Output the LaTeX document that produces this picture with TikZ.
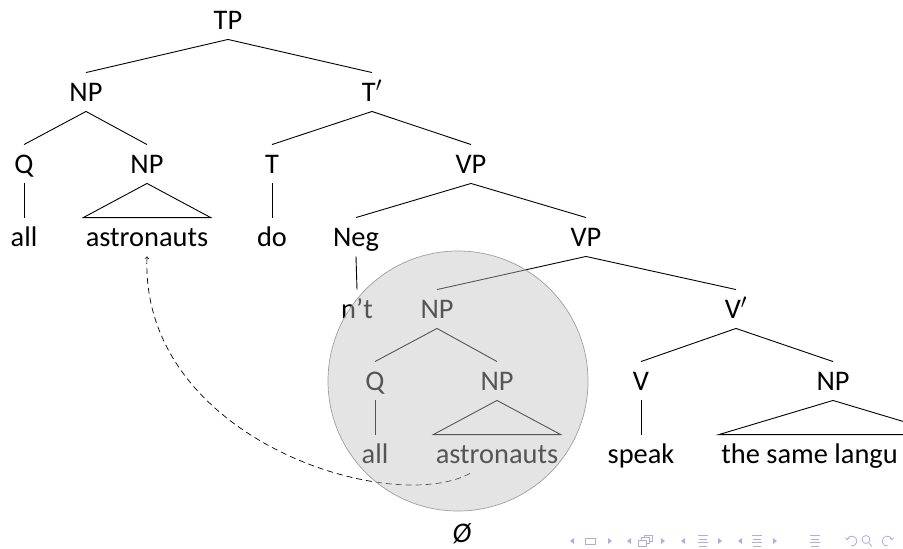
\documentclass[tikz,border=0pt]{standalone}
\usepackage{fontspec}
\setmainfont{Carlito}
\usetikzlibrary{arrows,calc}

\definecolor{navblue}{rgb}{0.68,0.68,0.88}
\definecolor{shade}{gray}{0.76}

\begin{document}
\begin{tikzpicture}[x=1pt, y=-1pt, line width=0.9pt,
  cat/.style={inner xsep=2pt, inner ysep=0pt, text height=18pt, text depth=0pt,
    minimum height=38pt, font=\fontsize{28.4}{34}\selectfont},
  move/.style={->, dashed, dash pattern=on 6pt off 4pt, line width=0.7pt}]

\useasboundingbox (0,0) rectangle (903,549);
\clip (0,0) rectangle (903,549);

% categories
\node[cat] (tp)   at (228, 20)  {TP};
\node[cat] (npa)  at (86, 92)   {NP};
\node[cat] (tbar) at (372, 92)  {T$'$};
\node[cat] (qa)   at (24, 164)  {Q};
\node[cat] (npb)  at (147, 164) {NP};
\node[cat] (t)    at (272, 164) {T};
\node[cat] (vpa)  at (471, 164) {VP};
\node[cat] (alla)   at (24, 237)  {all};
\node[cat] (astroa) at (147, 237) {astronauts};
\node[cat] (do)     at (272, 237) {do};
\node[cat] (neg)    at (356, 237) {Neg};
\node[cat] (vpb)    at (586, 237) {VP};
\node[cat] (nt)   at (357, 309) {n’t};
\node[cat] (npc)  at (437, 309) {NP};
\node[cat] (vbar) at (736, 309) {V$'$};
\node[cat] (qb)   at (375, 381) {Q};
\node[cat] (npd)  at (497, 381) {NP};
\node[cat] (v)    at (641, 381) {V};
\node[cat] (npe)  at (833, 381) {NP};
\node[cat] (allb)   at (375, 454) {all};
\node[cat] (astrob) at (497, 454) {astronauts};
\node[cat] (speak)  at (641, 454) {speak};
\node[cat, anchor=west] (lang) at (719, 454) {the same langu};
\node[cat] (empty) at (462, 533) {\textit{Ø}};

% branches
\draw (tp.south) -- (npa.north);
\draw (tp.south) -- (tbar.north);
\draw (npa.south) -- (qa.north);
\draw (npa.south) -- (npb.north);
\draw (tbar.south) -- (t.north);
\draw (tbar.south) -- (vpa.north);
\draw (qa.south) -- (alla.north);
\draw (npb.south) -- (astroa.north west) -- (astroa.north east) -- cycle;
\draw (t.south) -- (do.north);
\draw (vpa.south) -- (neg.north);
\draw (vpa.south) -- (vpb.north);
\draw (neg.south) -- (nt.north);
\draw (vpb.south) -- (npc.north);
\draw (vpb.south) -- (vbar.north);
\draw (npc.south) -- (qb.north);
\draw (npc.south) -- (npd.north);
\draw (vbar.south) -- (v.north);
\draw (vbar.south) -- (npe.north);
\draw (qb.south) -- (allb.north);
\draw (npd.south) -- (astrob.north west) -- (astrob.north east) -- cycle;
\draw (v.south) -- (speak.north);
\draw (npe.south) -- (lang.north west) -- ($(lang.north west)!2!(npe.south |- lang.north)$) -- cycle;

% movement of the subject
\draw[move] ([xshift=-27pt]astrob.south) .. controls +(-80,43) and +(-7,182) .. (astroa.south);

% shaded VP-internal subject
\draw[draw=black!38, line width=0.7pt, fill=shade, fill opacity=0.44] (458,381) circle (130pt);

% navigation symbols
\begin{scope}[navblue, line width=0.8pt]
\fill (574,538) -- (574,544) -- (570,541) -- cycle;
\draw (585,538.5) rectangle (595,544);
\fill (608,538) -- (608,544) -- (612,541) -- cycle;
\fill (631,538) -- (631,544) -- (627,541) -- cycle;
\draw[fill=white] (644,535) rectangle (652,541);
\draw[fill=white] (641,537.5) rectangle (649,543.5);
\draw[fill=white] (638,540) rectangle (646,546);
\fill (661,538) -- (661,544) -- (665,541) -- cycle;
\fill (685,538) -- (685,544) -- (681,541) -- cycle;
\draw (698,535.5) -- (708,535.5);
\draw (699,539) -- (707,539);
\draw (698,542.5) -- (708,542.5);
\draw (699,546) -- (707,546);
\fill (718,538) -- (718,544) -- (722,541) -- cycle;
\fill (742,538) -- (742,544) -- (738,541) -- cycle;
\draw (752,535.5) -- (762,535.5);
\draw (753,539) -- (761,539);
\draw (752,542.5) -- (762,542.5);
\draw (753,546) -- (761,546);
\fill (773,538) -- (773,544) -- (777,541) -- cycle;
\draw (810,535.5) -- (820,535.5);
\draw (811,539) -- (819,539);
\draw (810,542.5) -- (820,542.5);
\draw (811,546) -- (819,546);
\draw[->] (851,546) arc (-100:170:5pt);
\draw (866,539.5) circle (4pt);
\draw (869,543) -- (872,546.5);
\draw[->] (888,546) arc (280:10:5pt);
\end{scope}

\end{tikzpicture}
\end{document}
